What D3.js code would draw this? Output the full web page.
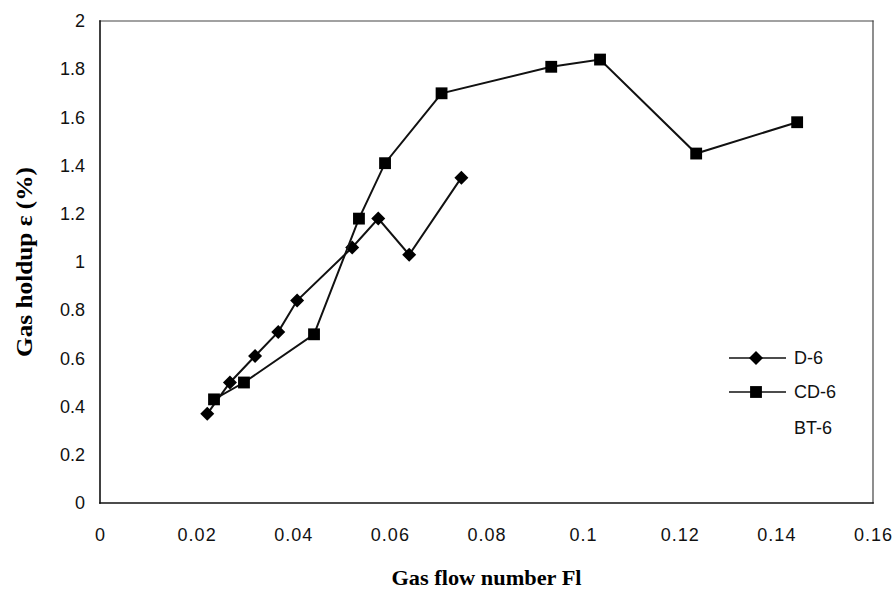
<!DOCTYPE html>
<html>
<head>
<meta charset="utf-8">
<script src="https://cdn.jsdelivr.net/npm/d3@7"></script>
<style>
body{margin:0;background:#fff;}
</style>
</head>
<body>
<svg id="chart" width="896" height="594"></svg>
<script>
// values
var d6_x = [0.0222, 0.0269, 0.0321, 0.0369, 0.0408, 0.0522, 0.0576, 0.0640, 0.0748]
var d6_y = [0.37, 0.50, 0.61, 0.71, 0.84, 1.06, 1.18, 1.03, 1.35]
var cd6_x = [0.0236, 0.0298, 0.0443, 0.0536, 0.0590, 0.0707, 0.0934, 0.1035, 0.1234, 0.1443]
var cd6_y = [0.43, 0.50, 0.70, 1.18, 1.41, 1.70, 1.81, 1.84, 1.45, 1.58]
var seriesNames = ['D-6', 'CD-6', 'BT-6']
var xTicks = [0, 0.02, 0.04, 0.06, 0.08, 0.1, 0.12, 0.14, 0.16]
var yTicks = [0, 0.2, 0.4, 0.6, 0.8, 1, 1.2, 1.4, 1.6, 1.8, 2]

var svg = d3.select('#chart')
// plot box (note: "top" is reserved on window, so use plot* names)
var plotLeft = 100, plotRight = 873, plotTop = 21, plotBottom = 503

var x = d3.scaleLinear().domain([0, 0.16]).range([plotLeft, plotRight])
var y = d3.scaleLinear().domain([0, 2]).range([plotBottom, plotTop])

// plot frame: top/right lighter like the scan, left/bottom darker
var frame = [
    [plotLeft, plotTop, plotRight, plotTop, '#444', 1.2],
    [plotRight, plotTop, plotRight, plotBottom, '#444', 1.2],
    [plotLeft, plotTop, plotLeft, plotBottom, '#111', 1.6],
    [plotLeft, plotBottom, plotRight, plotBottom, '#111', 1.6]
]
svg.append('g').selectAll('line')
    .data(frame)
    .enter().append('line')
    .attr('x1', function(d){ return d[0] }).attr('y1', function(d){ return d[1] })
    .attr('x2', function(d){ return d[2] }).attr('y2', function(d){ return d[3] })
    .attr('stroke', function(d){ return d[4] })
    .attr('stroke-width', function(d){ return d[5] })
    .attr('stroke-linecap', 'square')

// axes, labels only (no tick marks in the original)
svg.append('g')
    .attr('class', 'xaxis')
    .attr('transform', 'translate(0,' + plotBottom + ')')
    .call(d3.axisBottom(x).tickValues(xTicks).tickSize(0).tickPadding(25).tickFormat(d3.format('')))
svg.append('g')
    .attr('class', 'yaxis')
    .attr('transform', 'translate(' + plotLeft + ',0)')
    .call(d3.axisLeft(y).tickValues(yTicks).tickSize(0).tickPadding(15).tickFormat(d3.format('')))
svg.selectAll('.domain').remove()
svg.selectAll('.tick text')
    .attr('font-family', 'Arial, "Liberation Sans", sans-serif')
    .attr('font-size', '18px')
    .attr('fill', '#111')
svg.selectAll('.xaxis .tick text')
    .attr('letter-spacing', '1px')

// axis titles
svg.append('text')
    .attr('x', (plotLeft + plotRight) / 2).attr('y', 585)
    .attr('text-anchor', 'middle')
    .attr('font-family', '"Liberation Serif", "Times New Roman", serif')
    .attr('font-weight', 'bold')
    .attr('font-size', '22px')
    .attr('textLength', 190)
    .attr('lengthAdjust', 'spacingAndGlyphs')
    .text('Gas flow number Fl')
svg.append('text')
    .attr('transform', 'translate(32,' + ((plotTop + plotBottom) / 2) + ') rotate(-90)')
    .attr('text-anchor', 'middle')
    .attr('font-family', '"Liberation Serif", "Times New Roman", serif')
    .attr('font-weight', 'bold')
    .attr('font-size', '24px')
    .attr('textLength', 190)
    .attr('lengthAdjust', 'spacingAndGlyphs')
    .text('Gas holdup ε (%)')

var line = d3.line().x(function(d){ return x(d[0]) }).y(function(d){ return y(d[1]) })
var diamond = d3.symbol().type(d3.symbolSquare).size(98)
var square = d3.symbol().type(d3.symbolSquare).size(140)

drawSeries = function(xs, ys, sym, rot){
    var pts = xs.map(function(v, i){ return [v, ys[i]] })
    svg.append('path')
        .datum(pts)
        .attr('d', line)
        .attr('fill', 'none')
        .attr('stroke', '#111')
        .attr('stroke-width', 2)
    svg.append('g').selectAll('path')
        .data(pts)
        .enter().append('path')
        .attr('d', sym)
        .attr('transform', function(d){ return 'translate(' + x(d[0]) + ',' + y(d[1]) + ') rotate(' + rot + ')' })
        .attr('fill', '#000')
}
drawSeries(d6_x, d6_y, diamond, 45)
drawSeries(cd6_x, cd6_y, square, 0)

// legend
var legY = [358, 392, 428]
var legSym = [diamond, square, null]
var legRot = [45, 0, 0]
for(i=0; i<seriesNames.length; i++){
    if(legSym[i]){
        svg.append('line')
            .attr('x1', 729).attr('x2', 786)
            .attr('y1', legY[i]).attr('y2', legY[i])
            .attr('stroke', '#111').attr('stroke-width', 1.5)
        svg.append('path')
            .attr('d', legSym[i])
            .attr('transform', 'translate(756,' + legY[i] + ') rotate(' + legRot[i] + ')')
            .attr('fill', '#000')
    }
    svg.append('text')
        .attr('x', 794).attr('y', legY[i])
        .attr('dy', '0.35em')
        .attr('font-family', 'Arial, "Liberation Sans", sans-serif')
        .attr('font-size', '18px')
        .attr('fill', '#111')
        .text(seriesNames[i])
}
</script>
</body>
</html>
